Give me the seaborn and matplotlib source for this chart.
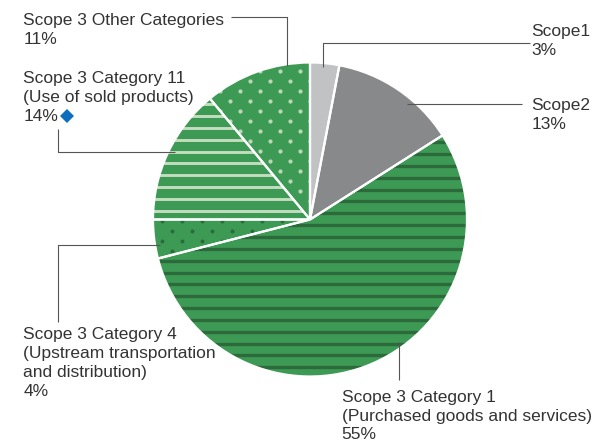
import numpy as np
import matplotlib
matplotlib.use("Agg")
import matplotlib.pyplot as plt
import seaborn as sns
from matplotlib.collections import LineCollection

# Emission shares by scope / category (percent), clockwise from 12 o'clock
categories = ["Scope1", "Scope2", "Scope 3 Category 1", "Scope 3 Category 4",
              "Scope 3 Category 11", "Scope 3 Other Categories"]
details = ["", "", "(Purchased goods and services)",
           "(Upstream transportation\nand distribution)",
           "(Use of sold products)", ""]
shares = [3, 13, 55, 4, 14, 11]

GREEN = "#3d9a55"
face_colors = ["#c1c2c4", "#88898b", GREEN, GREEN, GREEN, GREEN]
TEXT = "#333333"
LEADER = "#555555"

sns.set_theme(style="white")
plt.rcParams["font.family"] = ["Liberation Sans", "DejaVu Sans"]

W, H = 613, 443
fig = plt.figure(figsize=(W / 100, H / 100), dpi=100)
ax = fig.add_axes([0, 0, 1, 1])

CX, CY, R = 310, 219.5, 157

# y axis runs downward, so startangle=-90 points up and counterclock turns clockwise on screen
wedges, _ = ax.pie(shares, colors=face_colors, center=(CX, CY), radius=R,
                   startangle=-90, counterclock=True,
                   wedgeprops=dict(edgecolor="none", linewidth=0))


def stripes(wedge, y0, step, color, lw):
    ys = np.arange(y0 - 30 * step, y0 + 30 * step, step)
    ys = ys[(ys > CY - R - 5) & (ys < CY + R + 5)]
    segs = [[(CX - R - 5, y), (CX + R + 5, y)] for y in ys]
    lc = LineCollection(segs, colors=color, linewidths=lw, zorder=1.5)
    ax.add_collection(lc)
    lc.set_clip_path(wedge)


def dots(wedge, x0, y0, color, size):
    pts = []
    for j in range(-40, 41):
        y = y0 + 10 * j
        if y < CY - R - 5 or y > CY + R + 5:
            continue
        shift = 10 * (j % 2)
        for i in range(-20, 21):
            x = x0 + 20 * i - shift
            if CX - R - 5 < x < CX + R + 5:
                pts.append((x, y))
    pts = np.array(pts)
    sc = ax.scatter(pts[:, 0], pts[:, 1], s=size, c=color, linewidths=0, zorder=1.5)
    sc.set_clip_path(wedge)


# Fill textures for the Scope 3 slices
stripes(wedges[2], 213.3, 11.85, "#2c6a3b", 2.4)
dots(wedges[3], 172, 231, "#2c6a3b", 8)
stripes(wedges[4], 199.0, 11.85, "#c4dcbf", 2.1)
dots(wedges[5], 290, 181, "#bcd6b6", 9)

# White separators drawn over the textures
ax.pie(shares, colors=["none"] * len(shares), center=(CX, CY), radius=R,
       startangle=-90, counterclock=True,
       wedgeprops=dict(edgecolor="white", linewidth=1.6, zorder=2))

ax.set_xlim(0, W)
ax.set_ylim(H, 0)
ax.set_aspect("equal")
ax.axis("off")

# Leader lines
leaders = {
    0: [(530, 43), (322.5, 43), (322.5, 67)],
    1: [(407, 103.5), (522, 103.5)],
    2: [(398.5, 342), (398.5, 380)],
    3: [(160, 244.5), (57.7, 244.5), (57.7, 322)],
    4: [(175, 151.7), (57.7, 151.7), (57.7, 129)],
    5: [(231, 16.7), (286.7, 16.7), (286.7, 66)],
}
for k, pts in leaders.items():
    xs, ys = zip(*pts)
    ax.plot(xs, ys, color=LEADER, lw=0.8, solid_capstyle="butt", zorder=3)

# Labels: name, optional detail lines, percentage
label_pos = {
    0: (531.5, 36),
    1: (531.5, 110),
    2: (341.7, 401.7),
    3: (23.3, 339.3),
    4: (23.3, 83),
    5: (23.3, 25),
}
STEP = 18.8
for k, (x, y) in label_pos.items():
    lines = [categories[k]]
    if details[k]:
        lines += details[k].split("\n")
    lines.append(f"{shares[k]}%")
    for n, line in enumerate(lines):
        ax.text(x, y + n * STEP, line, fontsize=12.5, color=TEXT,
                ha="left", va="baseline", zorder=4)

# Blue marker next to the Category 11 share
ax.plot([66.7], [116], marker="D", markersize=7.5, color="#0b6ebe",
        markeredgewidth=0, zorder=4)

fig.savefig("out.png", dpi=100)
